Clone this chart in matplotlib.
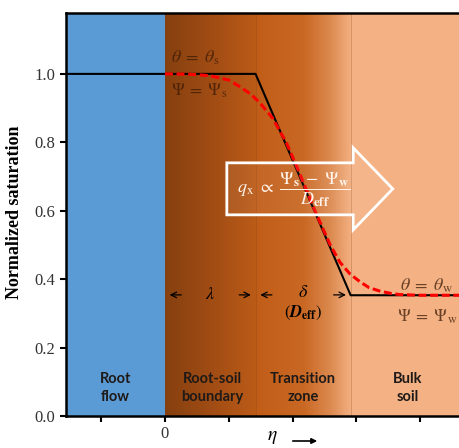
import numpy as np
import matplotlib
matplotlib.use('Agg')
import matplotlib.pyplot as plt
from matplotlib.colors import LinearSegmentedColormap
from matplotlib.patches import FancyArrow

plt.rcParams['mathtext.fontset'] = 'stix'
plt.rcParams['font.family'] = ['Liberation Serif', 'DejaVu Serif']

# zone edges along eta (tick units)
x_left, x_root, x_bound, x_trans, x_right = -1.55, 0.0, 1.42, 2.91, 4.78

# black piecewise profile
black_x = [x_left, 1.42, 2.91, x_right]
black_y = [1.0, 1.0, 0.353, 0.353]

# red dashed smooth profile
red_x = [0.0, 0.4, 0.7, 1.0, 1.18, 1.35, 1.49, 1.69, 1.9, 2.12, 2.35, 2.59,
         2.74, 2.9, 3.06, 3.2, 3.37, 3.55, 3.68, 4.0, x_right]
red_y = [1.0, 0.999, 0.995, 0.982, 0.962, 0.94, 0.915, 0.87, 0.8, 0.705, 0.6, 0.5,
         0.45, 0.415, 0.392, 0.375, 0.365, 0.358, 0.355, 0.353, 0.353]

zone_names = ['Root\nflow', 'Root-soil\nboundary', 'Transition\nzone', 'Bulk\nsoil']
zone_centers = [-0.78, 0.74, 2.16, 3.8]

yticks = [0.0, 0.2, 0.4, 0.6, 0.8, 1.0]
xticks = [-1, 0, 1, 2, 3, 4]
xticklabels = ['', '0', '', '', '', '']

fig = plt.figure(figsize=(4.59, 4.48), dpi=100)
ax = fig.add_axes([66 / 459, 32 / 448, 404 / 459, 403 / 448])
ymax = 1.178
ax.set_xlim(x_left, x_right)
ax.set_ylim(0, ymax)

# backgrounds
ax.axvspan(x_left, x_root, color='#5B9BD5', zorder=0, lw=0)
grad = np.linspace(0, 1, 256).reshape(1, -1)
cm_bound = LinearSegmentedColormap.from_list('b', ['#86400F', '#A04C14', '#BB5B18'])
cm_trans = LinearSegmentedColormap.from_list(
    't', [(0, '#C05D19'), (0.5, '#C96824'), (0.78, '#DC8A50'), (1.0, '#F4B183')])
ax.imshow(grad, cmap=cm_bound, extent=[x_root, x_bound, 0, ymax], aspect='auto', zorder=0)
ax.imshow(grad, cmap=cm_trans, extent=[x_bound, x_trans, 0, ymax], aspect='auto', zorder=0)
ax.axvspan(x_trans, x_right, color='#F4B183', zorder=0, lw=0)
for xb in [x_bound, x_trans]:
    ax.axvline(xb, color='#7a3a10', lw=0.6, alpha=0.3, zorder=1)

# profiles
ax.plot(black_x, black_y, color='black', lw=1.5, zorder=3)
ax.plot(red_x, red_y, color='red', lw=2.2, dashes=(2.6, 1.2), zorder=4)

# flux arrow
arr = FancyArrow(0.97, 0.664, 2.6, 0, width=0.152, head_width=0.24, head_length=0.62,
                 length_includes_head=True, facecolor=(1, 1, 1, 0.06),
                 edgecolor='white', lw=2, zorder=5)
ax.add_patch(arr)
ax.text(2.02, 0.662,
        r'$q_\mathrm{x}\ \propto\ \dfrac{\Psi_\mathbf{s}\ -\ \Psi_\mathbf{w}}{D_\mathbf{eff}}$',
        color='#fff3ea', fontsize=13, ha='center', va='center', zorder=6)

# state labels
tc = '#3a1a05'
ax.text(0.1, 1.047, r'$\theta\;=\;\theta_\mathrm{s}$', color=tc, alpha=0.75, fontsize=13,
        ha='left', va='center', zorder=6)
ax.text(0.1, 0.952, r'$\Psi\;=\;\Psi_\mathrm{s}$', color=tc, alpha=0.75, fontsize=12.5,
        ha='left', va='center', zorder=6)
ax.text(3.68, 0.38, r'$\theta\;=\;\theta_\mathrm{w}$', color=tc, alpha=0.75, fontsize=13,
        ha='left', va='center', zorder=6)
ax.text(3.64, 0.29, r'$\Psi\;=\;\Psi_\mathrm{w}$', color=tc, alpha=0.75, fontsize=12.5,
        ha='left', va='center', zorder=6)

# lambda / delta dimension arrows
ya = 0.354
for x0, x1 in [(0.3, 0.03), (1.12, 1.39), (1.72, 1.45), (2.6, 2.88)]:
    ax.annotate('', xy=(x1, ya), xytext=(x0, ya),
                arrowprops=dict(arrowstyle='->', color='black', lw=0.9), zorder=6)
ax.text(0.71, ya, r'$\lambda$', fontsize=13, ha='center', va='center', zorder=6)
ax.text(2.16, 0.36, r'$\delta$', fontsize=13, ha='center', va='center', zorder=6)
ax.text(2.16, 0.30, r'$(\boldsymbol{D}_\mathbf{eff})$', fontsize=12, ha='center', va='center', zorder=6)

# zone names
for nm, xc in zip(zone_names, zone_centers):
    ax.text(xc, 0.082, nm, family=['Lato', 'DejaVu Sans'], fontweight='bold', fontsize=10.5,
            color='#1f1a17', ha='center', va='center', linespacing=1.3, zorder=6)

# axes style
for s in ['left', 'bottom', 'top', 'right']:
    ax.spines[s].set_linewidth(1.8)
ax.set_yticks(yticks)
ax.set_yticklabels([f'{v:.1f}' for v in yticks])
ax.set_xticks(xticks)
ax.set_xticklabels(xticklabels)
ax.tick_params(direction='out', length=4, width=1.5, labelsize=12, labelcolor='#333333')

fig.text(15 / 459, 1 - 212 / 448, 'Normalized saturation', rotation=90, fontsize=13,
         fontweight='bold', ha='center', va='center')
fig.text(272 / 459, 1 - 437 / 448, r'$\eta$', fontsize=14, ha='center', va='center')
ax.annotate('', xy=(320 / 459, 1 - 441 / 448), xytext=(290 / 459, 1 - 441 / 448),
            xycoords='figure fraction', arrowprops=dict(arrowstyle='-|>', color='black',
                                                        lw=1.2, mutation_scale=8))

fig.savefig('out.png', dpi=100)
